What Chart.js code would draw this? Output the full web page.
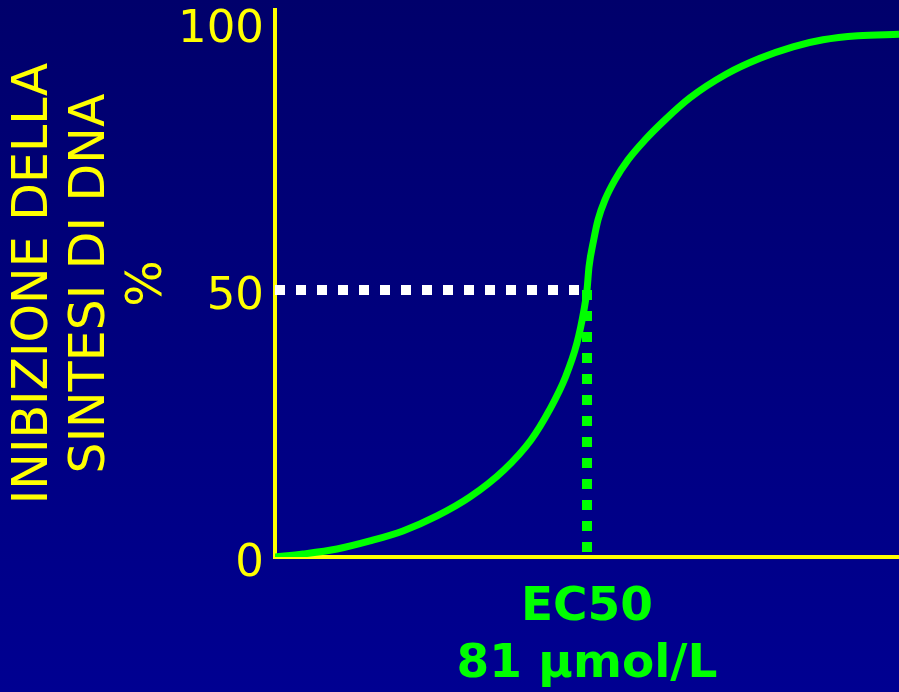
<!DOCTYPE html>
<html>
<head>
<meta charset="utf-8">
<script src="https://cdn.jsdelivr.net/npm/chart.js@4.4.1/dist/chart.umd.min.js"></script>
<style>
  html, body { margin: 0; padding: 0; }
  body { width: 899px; height: 692px; overflow: hidden; background: linear-gradient(#00006b, #000091); }
  #wrap { width: 899px; height: 692px; }
</style>
</head>
<body>
<div id="wrap"><canvas id="doseChart"></canvas></div>
<script>
// dose-response curve (concentration in umol/L, inhibition in %)
const curveX = [0, 7.27, 16.1, 24.66, 33.23, 42.06, 50.63, 59.45, 66.46, 71.27, 75.42, 78.4, 80.22, 81.0, 81.52, 82.74, 83.86, 85.67, 88.27, 91.64, 96.06, 101.25, 107.74, 117.09, 125.91, 134.48, 142.27, 151.35, 162];
const curveY = [0, 0.56, 1.5, 3.0, 4.87, 7.68, 11.24, 16.29, 21.91, 27.53, 33.71, 40.07, 46.25, 50.0, 54.31, 59.36, 63.11, 66.85, 70.6, 74.34, 78.09, 81.84, 85.96, 90.36, 93.35, 95.51, 96.82, 97.57, 97.85];
const ec50 = 81;
const halfEffect = 50;
const yTicks = [0, 50, 100];
const yTitle = ['INIBIZIONE DELLA', 'SINTESI DI DNA', '%'];
const ec50Label = ['EC50', '81 µmol/L'];
const xMax = 162;
const yMax = 102.4;

const YELLOW = '#ffff00';
const GREEN = '#00ff00';

(function () {
  if (typeof Chart === 'undefined') return;

  new Chart(document.getElementById('doseChart'), {
    type: 'line',
    data: {
      datasets: [
        {
          label: 'curve',
          data: curveX.map((x, i) => ({ x, y: curveY[i] })),
          borderColor: GREEN,
          borderWidth: 7,
          pointRadius: 0,
          cubicInterpolationMode: 'monotone',
          fill: false,
        },
        {
          label: 'ec50 drop',
          data: [{ x: ec50, y: halfEffect }, { x: ec50, y: 0 }],
          borderColor: GREEN,
          borderWidth: 10,
          borderDash: [10, 11],
          borderCapStyle: 'butt',
          pointRadius: 0,
        },
        {
          label: 'half line',
          data: [{ x: 0, y: halfEffect }, { x: ec50, y: halfEffect }],
          borderColor: '#ffffff',
          borderWidth: 10,
          borderDash: [10, 11],
          borderCapStyle: 'butt',
          pointRadius: 0,
        },
      ],
    },
    options: {
      responsive: true,
      maintainAspectRatio: false,
      animation: false,
      layout: { padding: { top: 10, right: 0, bottom: 0, left: 0 } },
      plugins: { legend: { display: false }, tooltip: { enabled: false } },
      scales: {
        x: {
          type: 'linear',
          min: 0,
          max: xMax,
          grid: { display: false, drawTicks: false },
          border: { display: true, color: YELLOW, width: 4 },
          afterBuildTicks: (s) => { s.ticks = [{ value: ec50 }]; },
          afterFit: (s) => { s.height = 135; s.paddingLeft = 0; s.paddingRight = 0; },
          ticks: {
            callback: () => ec50Label,
            color: GREEN,
            autoSkip: false,
            maxRotation: 0,
            padding: 22,
            font: { family: 'DejaVu Sans', weight: 'bold', size: 47, lineHeight: 1.22 },
          },
        },
        y: {
          type: 'linear',
          min: 0,
          max: yMax,
          grid: { display: false, drawTicks: false },
          border: { display: true, color: YELLOW, width: 4 },
          afterBuildTicks: (s) => { s.ticks = yTicks.map((v) => ({ value: v })); },
          afterFit: (s) => { s.width = 275; s.paddingTop = 0; s.paddingBottom = 0; },
          ticks: {
            color: YELLOW,
            padding: 11,
            labelOffset: 7,
            font: { family: 'DejaVu Sans', size: 45 },
          },
          title: {
            display: true,
            text: yTitle,
            color: YELLOW,
            padding: { top: 6, bottom: 0 },
            font: { family: 'DejaVu Sans', size: 49, lineHeight: 1.16 },
          },
        },
      },
    },
  });
})();
</script>
</body>
</html>
